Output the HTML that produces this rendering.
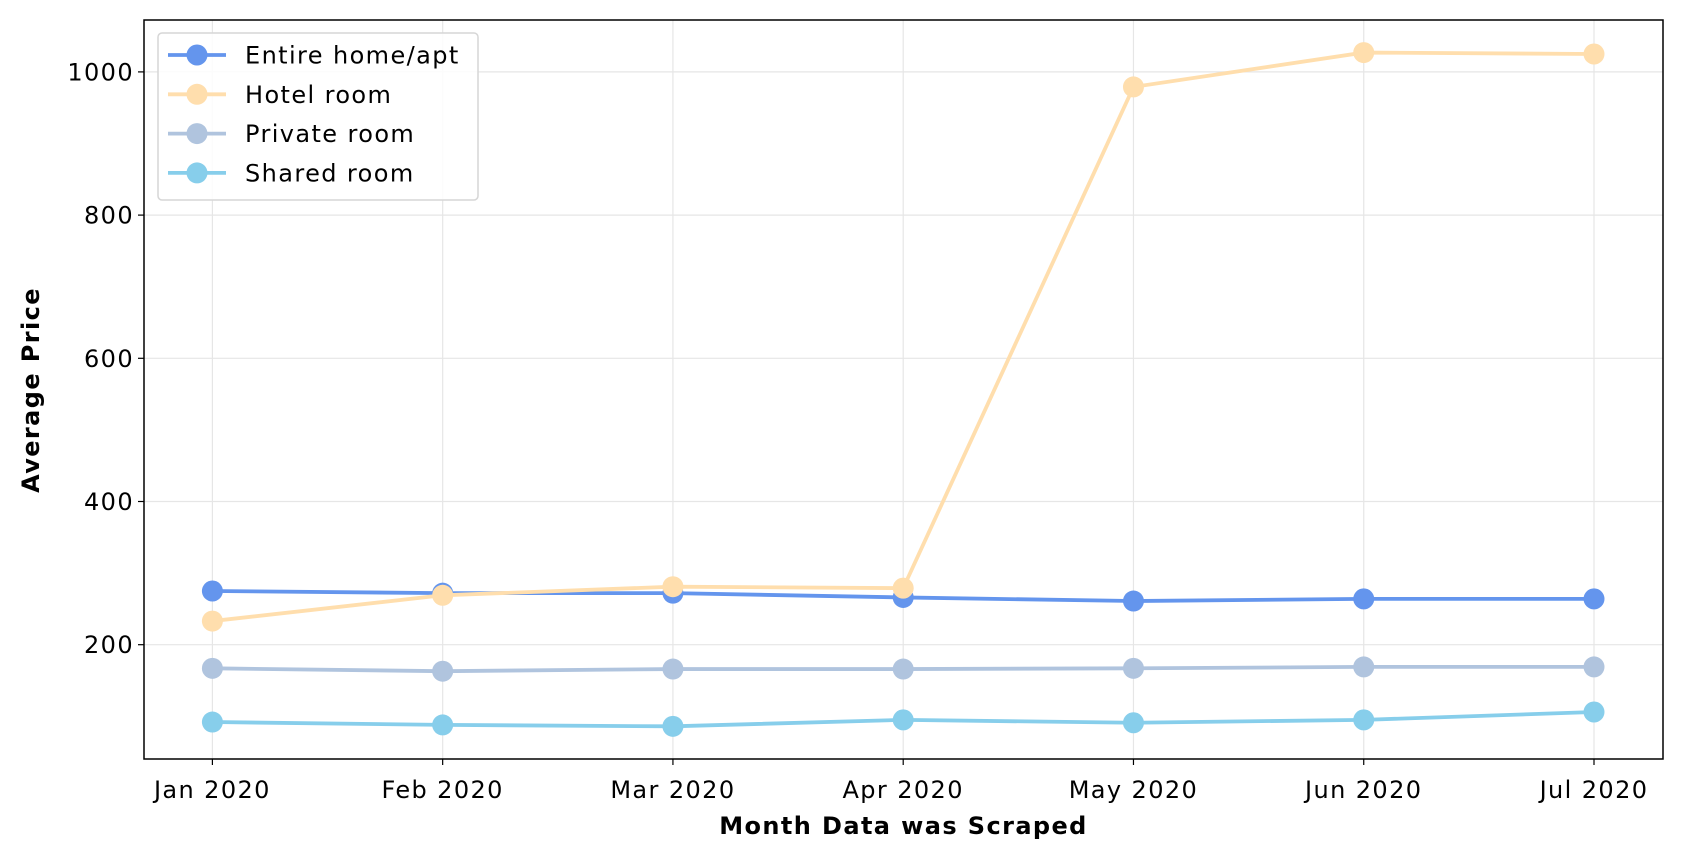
<!DOCTYPE html>
<html><head><meta charset="utf-8"><style>
body{margin:0;background:#fff;}
svg{display:block;font-family:"DejaVu Sans","Liberation Sans",sans-serif;}
svg text{letter-spacing:1.4px;}
</style></head><body>
<svg id="chart" width="1682" height="861"></svg>
<script>
const categories=["Jan 2020","Feb 2020","Mar 2020","Apr 2020","May 2020","Jun 2020","Jul 2020"];
const entireHome=[275,272,272,266,261,264,264];
const hotelRoom=[233,269,281,279,979,1027,1025];
const privateRoom=[167,163,166,166,167,169,169];
const sharedRoom=[92,88,86,95,91,95,106];
const yTicks=[200,400,600,800,1000];
const seriesNames=["Entire home/apt","Hotel room","Private room","Shared room"];
const seriesColors=["#6495ed","#ffdead","#b0c4de","#87ceeb"];

const NS="http://www.w3.org/2000/svg";
const svg=document.getElementById('chart');
const L=144,R=1663,T=20,B=759;
const x=i=>212.4+i*(1594-212.4)/(categories.length-1);
const y=v=>644.7-(v-200)*(644.7-71.9)/800;
function mk(tag,attrs,parent){const e=document.createElementNS(NS,tag);for(const k in attrs)e.setAttribute(k,attrs[k]);(parent||svg).appendChild(e);return e;}
categories.forEach((c,i)=>{
  const g=mk('line',{x1:x(i),x2:x(i),y1:T,y2:B,stroke:'#e6e6e6','stroke-width':1.2});
  
  
  const t=mk('line',{x1:x(i),x2:x(i),y1:B,y2:B+6,stroke:'#000','stroke-width':1.2});
  
  
  const lb=mk('text',{x:x(i),y:B+39,'text-anchor':'middle','font-size':24});
  lb.textContent=c;
  
  
});
yTicks.forEach(v=>{
  const g=mk('line',{x1:L,x2:R,y1:y(v),y2:y(v),stroke:'#e6e6e6','stroke-width':1.2});
  
  
  const t=mk('line',{x1:L-6,x2:L,y1:y(v),y2:y(v),stroke:'#000','stroke-width':1.2});
  
  
  const lb=mk('text',{x:L-10,y:y(v)+8.5,'text-anchor':'end','font-size':24});
  lb.textContent=v;
  
  
});
const frame=mk('rect',{x:L,y:T,width:R-L,height:B-T,fill:'none',stroke:'#000','stroke-width':1.5});


[entireHome,hotelRoom,privateRoom,sharedRoom].forEach((data,s)=>{
  const g=mk('g',{});
  
  
  const p=mk('polyline',{points:data.map((v,i)=>x(i)+','+y(v)).join(' '),fill:'none',stroke:seriesColors[s],'stroke-width':3.8},g);
  
  
  data.forEach((v,i)=>{
    const c=mk('circle',{cx:x(i),cy:y(v),r:10.5,fill:seriesColors[s]},g);
    
    
  });
});
const lg=mk('g',{});


mk('rect',{x:158,y:33,width:320,height:167,rx:4,fill:'#fff','fill-opacity':0.85,stroke:'#d6d6d6','stroke-width':1.5},lg);
seriesNames.forEach((n,s)=>{
  const cy=55+s*39.3;
  const e=mk('g',{},lg);
  
  
  mk('line',{x1:168,x2:226,y1:cy,y2:cy,stroke:seriesColors[s],'stroke-width':3.8},e);
  mk('circle',{cx:197,cy:cy,r:10.5,fill:seriesColors[s]},e);
  const t=mk('text',{x:245,y:cy+8.5,'font-size':24},e);
  t.textContent=n;
});
const xt=mk('text',{x:(L+R)/2,y:834,'text-anchor':'middle','font-size':24,'font-weight':'bold'});
xt.textContent='Month Data was Scraped';


const yt=mk('text',{x:0,y:0,'text-anchor':'middle','font-size':24,'font-weight':'bold',transform:'translate(39,390) rotate(-90)'});
yt.textContent='Average Price';


</script>
</body></html>
